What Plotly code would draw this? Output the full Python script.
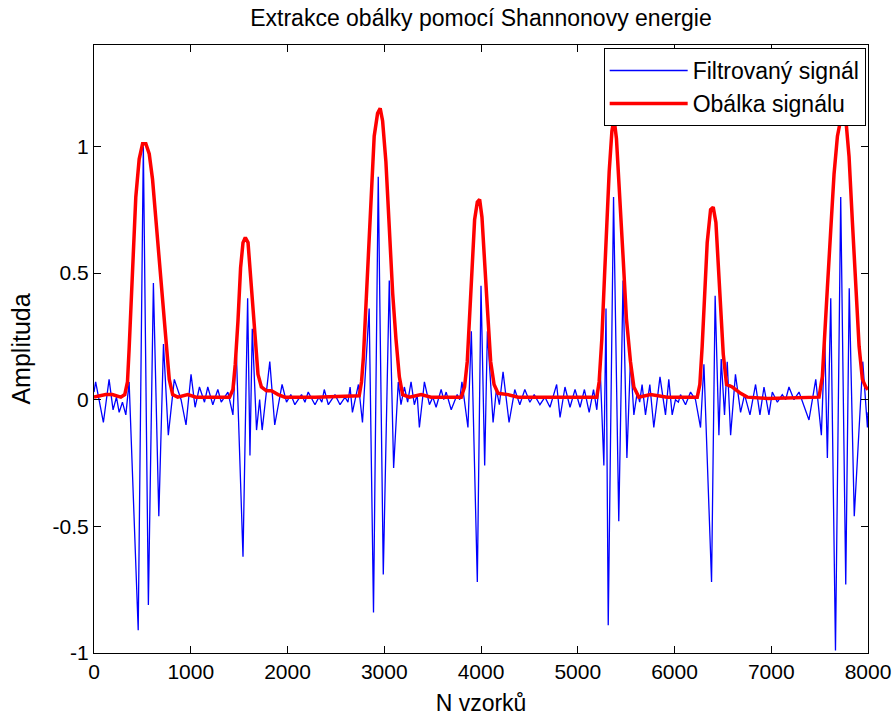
import plotly.graph_objects as go

# Filtered signal: local extrema (sample index, amplitude)
sig_x = [0, 17, 52, 97, 156, 197, 232, 260, 294, 329, 363,
         457, 510, 562, 614, 670, 718, 768, 830, 900, 951, 1003, 1045, 1090, 1142, 1176,
         1228, 1280, 1315, 1384, 1436,
         1470, 1540, 1588, 1612, 1636, 1680, 1712, 1738, 1817, 1868, 1944, 1990, 2034, 2076,
         2145, 2180, 2214, 2284, 2325, 2355, 2380, 2422, 2491, 2543, 2595, 2625, 2647, 2671,
         2733, 2775,
         2844, 2889, 2938, 2990, 3052, 3097, 3145, 3173, 3208, 3242, 3277, 3311, 3340, 3363,
         3415, 3467, 3502, 3536, 3588, 3615, 3640, 3692, 3754, 3780, 3803, 3865,
         3900, 3962, 4000, 4038, 4066, 4125, 4159, 4190, 4228, 4290, 4349, 4401, 4453, 4505,
         4550, 4609, 4661, 4713, 4782, 4817, 4868, 4920, 4972, 5024, 5069, 5118, 5163, 5197,
         5232, 5270, 5292, 5315, 5370, 5424, 5468, 5508, 5545, 5580, 5615, 5640, 5665, 5700,
         5745, 5786, 5850, 5907, 5941, 5976, 6010, 6040, 6062, 6114, 6166, 6217, 6269,
         6304, 6383, 6420, 6459, 6483, 6517, 6545, 6580, 6630, 6683, 6724, 6780, 6838, 6883,
         6925, 6976, 7011, 7063, 7114, 7149, 7183, 7235, 7287, 7390, 7460, 7518,
         7553, 7580, 7615, 7664, 7718, 7770, 7806, 7858, 7946, 7994, 8000]
sig_y = [0.03, 0.07, 0.0, -0.09, 0.08, -0.04, 0.01, -0.05, -0.01, -0.06, 0.07,
         -0.91, 1.0, -0.81, 0.46, -0.46, 0.22, -0.14, 0.08, 0.0, -0.1, 0.1, -0.03, 0.05, -0.01, 0.05,
         -0.02, 0.04, -0.01, 0.03, -0.06,
         0.2, -0.62, 0.4, -0.22, 0.28, -0.12, 0.0, -0.12, 0.15, -0.1, 0.06, -0.01, 0.02, -0.02,
         0.02, -0.01, 0.03, -0.02, 0.01, -0.01, 0.04, -0.02, 0.02, -0.02, 0.01, -0.01, 0.05, -0.05,
         0.06, -0.09,
         0.36, -0.84, 0.88, -0.69, 0.47, -0.27, 0.07, -0.02, 0.05, -0.01, 0.07, -0.02, 0.02, -0.11,
         0.07, -0.02, 0.01, -0.03, 0.04, 0.0, 0.03, -0.04, 0.02, 0.0, 0.07, -0.11,
         0.27, -0.72, 0.45, -0.26, 0.27, -0.09, 0.04, -0.02, 0.11, -0.09, 0.04, -0.02, 0.04, -0.01,
         0.02, -0.02, 0.01, -0.03, 0.06, -0.07, 0.05, -0.03, 0.04, -0.03, 0.04, -0.05, 0.04, -0.04,
         0.12, -0.26, 0.36, -0.89, 0.8, -0.48, 0.47, -0.23, 0.16, -0.06, 0.03, -0.01, 0.06, -0.06,
         0.06, -0.11, 0.09, -0.06, 0.08, -0.06, 0.0, -0.01, 0.02, -0.02, 0.03, 0.0, -0.11,
         0.14, -0.72, 0.41, -0.14, 0.16, -0.06, 0.15, -0.14, 0.1, -0.05, 0.02, -0.06, 0.06, -0.06,
         0.05, -0.06, 0.03, -0.01, 0.02, 0.0, 0.05, 0.0, 0.03, -0.08, 0.08, -0.14,
         0.24, -0.23, 0.4, -0.99, 0.8, -0.73, 0.44, -0.46, 0.15, -0.11, -0.05]

# Envelope (Shannon energy)
env_x = [0, 121, 190, 277, 318, 346, 363, 380, 405, 432, 467, 502, 536, 571, 605, 640, 675,
         709, 744, 778, 813, 865, 969, 1055, 1176, 1315, 1401, 1436, 1460, 1488, 1515, 1540,
         1564, 1592, 1616, 1643, 1668, 1695, 1730, 1782, 1834, 1903, 1972, 2284, 2741, 2765,
         2785, 2810, 2834, 2862, 2896, 2931, 2958, 2983, 3017, 3052, 3087, 3121, 3156, 3190,
         3260, 3381, 3484, 3796, 3830, 3858, 3882, 3907, 3934, 3962, 3986, 4010, 4038, 4066,
         4100, 4135, 4176, 4280, 4384, 5197, 5221, 5249, 5277, 5301, 5325, 5353, 5375, 5400,
         5434, 5469, 5503, 5545, 5580, 5631, 5752, 5924, 6235, 6262, 6286, 6310, 6338, 6373,
         6400, 6428, 6449, 6476, 6504, 6538, 6597, 6683, 6752, 6959, 7494, 7528, 7553, 7580,
         7615, 7649, 7684, 7725, 7770, 7804, 7839, 7873, 7908, 7942, 7977, 8000]
env_y = [0.01, 0.02, 0.02, 0.01, 0.02, 0.07, 0.2, 0.34, 0.55, 0.8, 0.95, 1.01, 1.01, 0.97, 0.87,
         0.71, 0.55, 0.36, 0.2, 0.08, 0.02, 0.01, 0.02, 0.01, 0.01, 0.01, 0.01, 0.04, 0.14, 0.31,
         0.52, 0.62, 0.64, 0.62, 0.49, 0.34, 0.2, 0.1, 0.05, 0.035, 0.035, 0.02, 0.01, 0.01,
         0.015, 0.07, 0.17, 0.36, 0.59, 0.82, 1.04, 1.13, 1.15, 1.1, 0.94, 0.68, 0.42, 0.24,
         0.09, 0.02, 0.01, 0.02, 0.01, 0.01, 0.05, 0.15, 0.33, 0.53, 0.71, 0.78, 0.79, 0.72,
         0.56, 0.36, 0.15, 0.06, 0.025, 0.02, 0.01, 0.01, 0.07, 0.24, 0.49, 0.71, 0.9, 1.06,
         1.11, 1.03, 0.82, 0.56, 0.32, 0.15, 0.05, 0.01, 0.02, 0.01, 0.01, 0.06, 0.21, 0.41,
         0.62, 0.75, 0.76, 0.7, 0.56, 0.35, 0.18, 0.06, 0.05, 0.025, 0.01, 0.005, 0.01, 0.09,
         0.24, 0.44, 0.67, 0.89, 1.04, 1.12, 1.11, 0.96, 0.7, 0.44, 0.21, 0.08, 0.05, 0.04]

x_ticks = [0, 1000, 2000, 3000, 4000, 5000, 6000, 7000, 8000]
y_ticks = [-1, -0.5, 0, 0.5, 1]
y_tick_labels = ["-1", "-0.5", "0", "0.5", "1"]

FONT = "Liberation Sans, Arial, sans-serif"
FS = 21

fig = go.Figure()
fig.add_trace(go.Scatter(x=sig_x, y=sig_y, mode="lines", name="Filtrovaný signál",
                         line=dict(color="#0000ff", width=1.3)))
fig.add_trace(go.Scatter(x=env_x, y=env_y, mode="lines", name="Obálka signálu",
                         line=dict(color="#ff0000", width=3.5)))

axis_common = dict(showline=True, linecolor="black", linewidth=1, mirror="ticks",
                   ticks="inside", ticklen=7, tickcolor="black", showgrid=False,
                   zeroline=False, automargin=False,
                   tickfont=dict(family=FONT, size=FS, color="black"))

fig.update_layout(
    width=893, height=716,
    margin=dict(l=94, r=25, t=45, b=63, pad=0, autoexpand=False),
    paper_bgcolor="white", plot_bgcolor="white",
    font=dict(family=FONT, size=FS, color="black"),
    title=dict(text="Extrakce obálky pomocí Shannonovy energie", x=0.5, xref="paper",
               xanchor="center", y=1 - 18 / 716, yref="container", yanchor="middle",
               font=dict(family=FONT, size=23, color="black")),
    xaxis=dict(range=[0, 8000], tickvals=x_ticks, ticktext=[str(v) for v in x_ticks],
               title=dict(text="N vzorků", standoff=12, font=dict(family=FONT, size=23)),
               **axis_common),
    yaxis=dict(range=[-1, 1.4], tickvals=y_ticks, ticktext=y_tick_labels,
               title=dict(text="Amplituda", standoff=14, font=dict(family=FONT, size=25)),
               **axis_common),
    legend=dict(x=0.997, y=0.995, xanchor="right", yanchor="top", bgcolor="white",
                bordercolor="black", borderwidth=1, itemwidth=78,
                font=dict(family=FONT, size=23, color="black"), tracegroupgap=0),
    showlegend=True,
)

fig.write_html("out.html")
